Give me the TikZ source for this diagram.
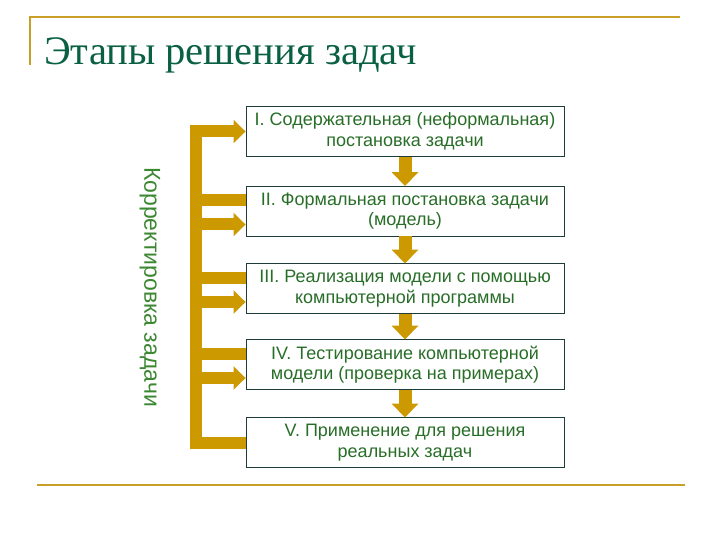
\documentclass[tikz,border=0pt]{standalone}
\usepackage{fontspec}
\setmainfont{Liberation Serif}
\newfontfamily\arialfont{Liberation Sans}
\usetikzlibrary{arrows.meta}
\definecolor{gold}{RGB}{204,153,0}
\definecolor{rulegold}{RGB}{200,160,40}
\definecolor{titlegreen}{RGB}{10,96,66}
\definecolor{boxgreen}{RGB}{40,110,40}
\definecolor{lblgreen}{RGB}{60,135,50}
\definecolor{boxline}{RGB}{30,60,60}
\tikzset{
  stage/.style={draw=boxline, line width=0.9pt, fill=white, minimum width=318pt, minimum height=50pt,
    inner sep=0pt, align=center, text=boxgreen, font=\arialfont\fontsize{18}{20.5}\selectfont},
  downarrow/.style={draw=gold, line width=13pt, -{Triangle[width=26pt,length=14pt]}, shorten >=-0.5pt},
  fbarrow/.style={draw=gold, line width=12pt, -{Triangle[width=23pt,length=12pt]}},
  fbbar/.style={draw=gold, line width=12pt},
}
\begin{document}
\begin{tikzpicture}[x=1pt,y=-1pt]
\useasboundingbox (0,0) rectangle (720,540);
% rules
\draw[rulegold, line width=2.5pt] (29,17) -- (680,17);
\draw[rulegold, line width=2.5pt] (30,17) -- (30,65);
\draw[rulegold, line width=2.5pt] (37,485) -- (685,485);
% title
\node[anchor=base west, inner sep=0pt, text=titlegreen, font=\fontsize{40.5}{48}\selectfont] (title) at (44,65) {Этапы решения задач};
% boxes
\node[stage] (b1) at (405,131.5) {I. Содержательная (неформальная)\\постановка задачи};
\node[stage] (b2) at (405,211) {II. Формальная постановка задачи\\(модель)};
\node[stage] (b3) at (405,288.5) {III. Реализация модели с помощью\\компьютерной программы};
\node[stage] (b4) at (405,364.5) {IV. Тестирование компьютерной\\модели (проверка на примерах)};
\node[stage] (b5) at (405,442.5) {V. Применение для решения\\реальных задач};
% down arrows
\draw[downarrow] (b1.south) -- (b2.north);
\draw[downarrow] (b2.south) -- (b3.north);
\draw[downarrow] (b3.south) -- (b4.north);
\draw[downarrow] (b4.south) -- (b5.north);
% feedback
\draw[fbarrow] (b5.west) -- ++(-50,0) |- (b1.west);
\foreach \b in {b2,b3,b4}{
  \draw[fbbar] ([yshift=11pt]\b.west) -- ++(-50,0);
  \draw[fbarrow] ([xshift=-50pt,yshift=-13.5pt]\b.west) -- ([yshift=-13.5pt]\b.west);
}
% label
\node[rotate=-90, text=lblgreen, font=\arialfont\fontsize{23}{26}\selectfont] (lbl) at (150,287) {Корректировка задачи};
\end{tikzpicture}
\end{document}
